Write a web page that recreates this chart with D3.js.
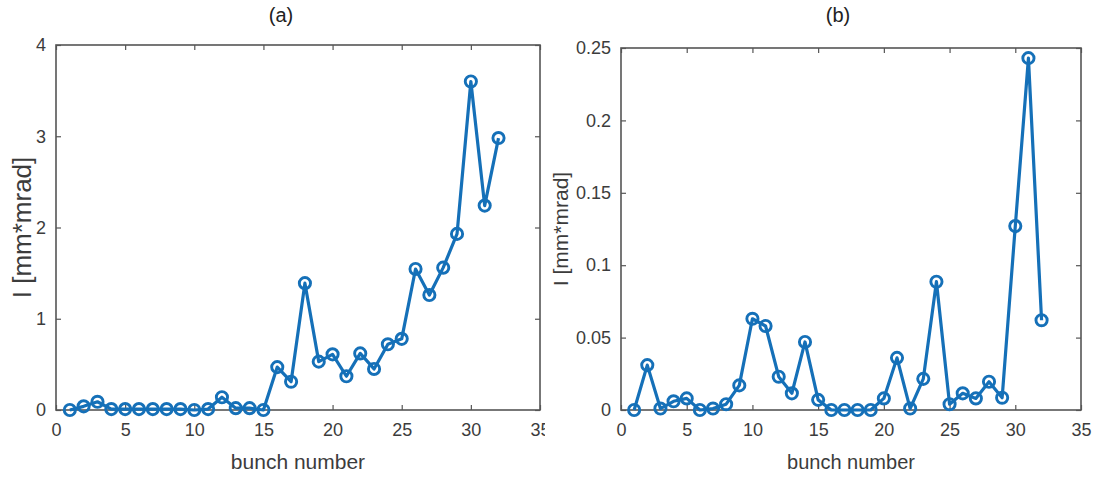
<!DOCTYPE html>
<html>
<head>
<meta charset="utf-8">
<script src="https://d3js.org/d3.v7.min.js"></script>
<style>
  body { margin: 0; background: #fff; }
  text { font-family: "Liberation Sans", Arial, sans-serif; }
</style>
</head>
<body>
<div id="chart"></div>
<script>
var bunches = d3.range(1, 33);
var valuesA = [0, 0.04, 0.09, 0.01, 0.01, 0.01, 0.01, 0.01, 0.01, 0, 0.01, 0.14, 0.02, 0.02, 0,
  0.47, 0.31, 1.39, 0.53, 0.61, 0.37, 0.62, 0.45, 0.72, 0.78, 1.545, 1.26, 1.56, 1.93, 3.60, 2.24, 2.98];
var valuesB = [0, 0.031, 0.001, 0.006, 0.008, 0, 0.001, 0.004, 0.017, 0.063, 0.058, 0.023, 0.0115, 0.047, 0.007,
  0, 0, 0, 0, 0.008, 0.036, 0.001, 0.0215, 0.0886, 0.004, 0.0115, 0.008, 0.0195, 0.0085, 0.127, 0.243, 0.062];
var xTicks = [0, 5, 10, 15, 20, 25, 30, 35];
var yTicksA = [0, 1, 2, 3, 4];
var yTicksB = [0, 0.05, 0.1, 0.15, 0.2, 0.25];

var W = 1097, H = 477;
var blue = "#1570b8", axisCol = "#555", textCol = "#3c3c3c";

var svg = d3.select("#chart").append("svg")
  .attr("width", W).attr("height", H);

svg.append("clipPath").attr("id", "clipA")
  .append("rect").attr("x", 0).attr("y", 0).attr("width", 545).attr("height", H);

function panel(cfg) {
  var g = svg.append("g");
  if (cfg.clip) g.attr("clip-path", "url(#" + cfg.clip + ")");

  var x = d3.scaleLinear().domain([0, 35]).range([cfg.left, cfg.right]);
  var y = d3.scaleLinear().domain(cfg.yDomain).range([cfg.bottom, cfg.top]);

  // bottom + left axes with labels, ticks pointing inward
  var xAxis = d3.axisBottom(x).tickValues(xTicks).tickSize(-5).tickPadding(13);
  var yAxis = d3.axisLeft(y).tickValues(cfg.yTicks).tickSize(-5).tickPadding(10)
    .tickFormat(d3.format("~g"));

  g.append("g").attr("transform", "translate(0," + cfg.bottom + ")").call(xAxis);
  g.append("g").attr("transform", "translate(" + cfg.left + ",0)").call(yAxis);
  // top + right mirror ticks
  g.append("g").attr("transform", "translate(0," + cfg.top + ")")
    .call(d3.axisTop(x).tickValues(xTicks).tickSize(-5).tickFormat(""));
  g.append("g").attr("transform", "translate(" + cfg.right + ",0)")
    .call(d3.axisRight(y).tickValues(cfg.yTicks).tickSize(-5).tickFormat(""));

  g.selectAll(".domain").remove();
  g.selectAll(".tick line").attr("stroke", axisCol).attr("stroke-width", 1.2);
  g.selectAll(".tick text").attr("fill", textCol).style("font-size", cfg.tickSize + "px");

  g.append("rect")
    .attr("x", cfg.left).attr("y", cfg.top)
    .attr("width", cfg.right - cfg.left).attr("height", cfg.bottom - cfg.top)
    .attr("fill", "none").attr("stroke", axisCol).attr("stroke-width", 1.6);

  var line = d3.line().x(function(d, i) { return x(bunches[i]); }).y(function(d) { return y(d); });
  g.append("path").datum(cfg.values)
    .attr("d", line).attr("fill", "none")
    .attr("stroke", blue).attr("stroke-width", 3.2).attr("stroke-linejoin", "round");

  g.selectAll("circle.m").data(cfg.values).enter().append("circle")
    .attr("class", "m")
    .attr("cx", function(d, i) { return x(bunches[i]); })
    .attr("cy", function(d) { return y(d); })
    .attr("r", 5.6)
    .attr("fill", "none").attr("stroke", blue).attr("stroke-width", 2.9);

  g.append("text").text("bunch number")
    .attr("x", (cfg.left + cfg.right) / 2).attr("y", 469)
    .attr("text-anchor", "middle").attr("fill", textCol)
    .style("font-size", cfg.labelSize + "px");

  g.append("text").text("I [mm*mrad]")
    .attr("transform", "translate(" + cfg.ylabX + "," + ((cfg.top + cfg.bottom) / 2) + ") rotate(-90)")
    .attr("text-anchor", "middle").attr("fill", textCol)
    .style("font-size", cfg.ylabSize + "px");

  svg.append("text").text(cfg.title)
    .attr("x", cfg.titleX).attr("y", 22)
    .attr("text-anchor", "middle").attr("fill", "#222")
    .style("font-size", "20px");
}

panel({ left: 56, right: 540, top: 45, bottom: 410, yDomain: [0, 4], yTicks: yTicksA,
  values: valuesA, clip: "clipA", tickSize: 18, labelSize: 21, ylabSize: 26, ylabX: 31,
  title: "(a)", titleX: 281 });
panel({ left: 621, right: 1081, top: 48, bottom: 410, yDomain: [0, 0.25], yTicks: yTicksB,
  values: valuesB, tickSize: 18, labelSize: 20, ylabSize: 21, ylabX: 568,
  title: "(b)", titleX: 838 });
</script>
</body>
</html>
